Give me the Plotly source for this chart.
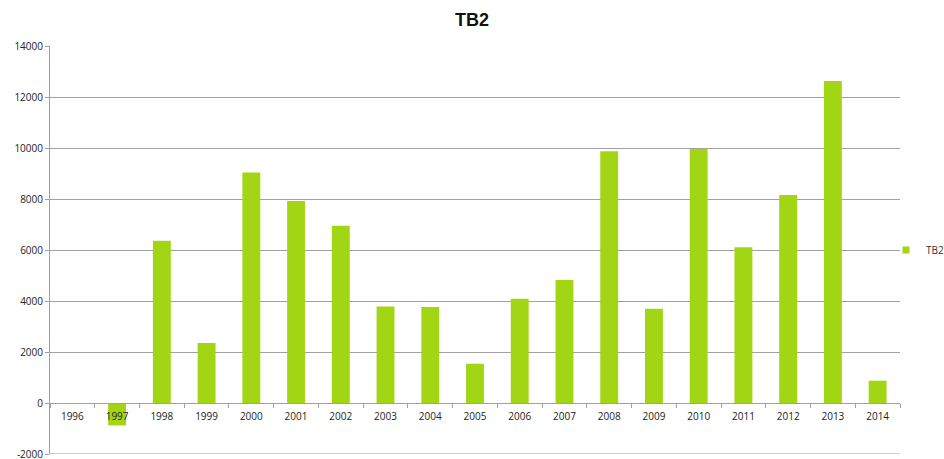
import plotly.graph_objects as go

years = [str(y) for y in range(1996, 2015)]
values = [0, -880, 6360, 2350, 9035, 7925, 6955, 3785, 3760, 1540, 4086, 4819,
          9872, 3695, 9963, 6112, 8161, 12627, 874]
series_name = "TB2"
y_ticks = [-2000, 0, 2000, 4000, 6000, 8000, 10000, 12000, 14000]
y_tick_labels = [str(v) for v in y_ticks]

green = "#A2D614"
grid = "#a0a0a0"
font_family = "Open Sans, Roboto, sans-serif"

fig = go.Figure()
fig.add_trace(go.Bar(x=years, y=values, marker=dict(color=green, line=dict(width=0)),
                     showlegend=False, name=series_name))
fig.add_trace(go.Scatter(x=[None], y=[None], mode="markers", name=series_name,
                         marker=dict(symbol="square", size=7, color=green)))

# bottom gridline (Plotly omits the gridline lying on the plot edge)
fig.add_shape(type="line", xref="x domain", x0=0, x1=1, yref="y",
              y0=y_ticks[0], y1=y_ticks[0], line=dict(color=grid, width=1), layer="below")

fig.update_layout(
    width=944, height=459,
    margin=dict(l=50, r=44, t=46, b=5, autoexpand=False),
    paper_bgcolor="white", plot_bgcolor="white",
    bargap=0.6,
    title=dict(text="<b>TB2</b>", x=0.5, xanchor="center", y=1 - 20 / 459, yanchor="middle",
               font=dict(family="Liberation Sans, Arial, sans-serif", size=18, color="#111")),
    font=dict(family=font_family, size=10, color="#333"),
    legend=dict(x=(886 - 50) / 850, xanchor="left", y=0.5, yanchor="middle",
                font=dict(family=font_family, size=10, color="#333"),
                bgcolor="rgba(0,0,0,0)"),
    xaxis=dict(type="category", anchor="free", position=2000 / 16000, automargin=False,
               showline=True, linecolor=grid, linewidth=1,
               ticks="outside", tickson="boundaries", ticklen=4, tickcolor=grid,
               ticklabelstandoff=4,
               showgrid=False, zeroline=False,
               tickfont=dict(family=font_family, size=10, color="#222")),
    yaxis=dict(range=[-2000, 14000], tickvals=y_ticks, ticktext=y_tick_labels,
               automargin=False, ticklabeloverflow="allow", showgrid=True, gridcolor=grid,
               gridwidth=1, zeroline=False, showline=True, linecolor=grid, linewidth=1,
               ticks="outside", ticklen=4, tickcolor=grid,
               tickfont=dict(family=font_family, size=10, color="#222")),
)

fig.write_html("out.html", config={"displayModeBar": False},
               post_script="document.body.style.margin='0px';document.body.style.overflow='hidden';")
